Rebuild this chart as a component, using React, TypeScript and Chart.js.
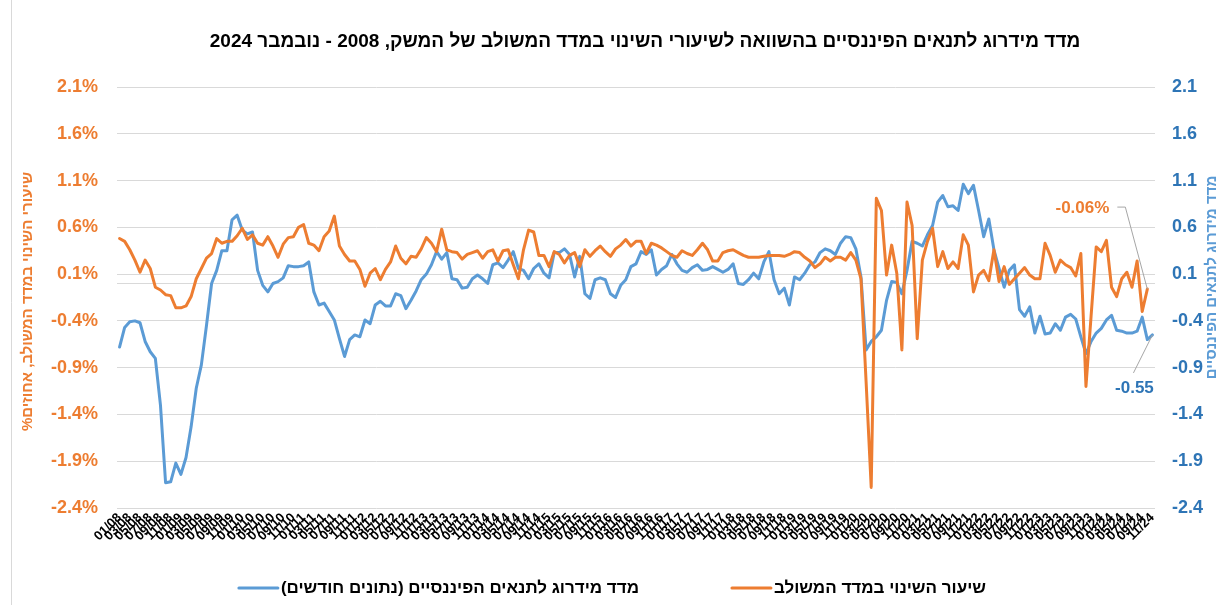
import React, { useEffect, useRef } from "react";
import { Chart, registerables } from "chart.js";

Chart.register(...registerables);

const FONT = "'Liberation Sans', Arial, sans-serif";
const ORANGE = "#ED7D31";
const BLUE = "#5B9BD5";
const BLUE_DARK = "#2E75B6";
const GRID = "#d9d9d9";

const TITLE = "מדד מידרוג לתנאים הפיננסיים בהשוואה לשיעורי השינוי במדד המשולב של המשק, 2008 - נובמבר 2024";
const LEFT_TITLE = "שיעורי השינוי במדד המשולב, אחוזים%";
const RIGHT_TITLE = "מדד מידרוג לתנאים הפיננסיים";
const ORANGE_LABEL = "שיעור השינוי במדד המשולב";
const BLUE_LABEL = "מדד מידרוג לתנאים הפיננסיים (נתונים חודשים)";

const YEARS = ["08", "09", "10", "11", "12", "13", "14", "15", "16", "17", "18", "19", "20", "21", "22", "23", "24"];
const MONTHS = ["01", "02", "03", "04", "05", "06", "07", "08", "09", "10", "11", "12"];
const LAST_MONTH_COUNT = 11; // 2024 ends in November

const monthLabels: string[] = [];
YEARS.forEach((y, yi) => {
  const n = yi === YEARS.length - 1 ? LAST_MONTH_COUNT : 12;
  for (let m = 0; m < n; m++) monthLabels.push(`${MONTHS[m]}/${y}`);
});

const TICK_VALUES = [-2.4, -1.9, -1.4, -0.9, -0.4, 0.1, 0.6, 1.1, 1.6, 2.1];

// Combined index monthly change (%), left axis
const orangeSeries: (number | null)[] = [
  // 2008
  0.48, 0.45, 0.36, 0.25, 0.12, 0.25, 0.16, -0.04, -0.07, -0.12, -0.13, -0.26,
  // 2009
  -0.26, -0.24, -0.14, 0.05, 0.16, 0.27, 0.32, 0.48, 0.43, 0.45, 0.45, 0.51,
  // 2010
  0.59, 0.47, 0.52, 0.43, 0.41, 0.50, 0.40, 0.28, 0.42, 0.49, 0.50, 0.60,
  // 2011
  0.63, 0.43, 0.41, 0.35, 0.50, 0.56, 0.72, 0.40, 0.31, 0.24, 0.24, 0.15,
  // 2012
  -0.03, 0.11, 0.16, 0.04, 0.15, 0.23, 0.40, 0.27, 0.21, 0.29, 0.28, 0.37,
  // 2013
  0.49, 0.43, 0.34, 0.58, 0.36, 0.34, 0.33, 0.26, 0.31, 0.33, 0.35, 0.27,
  // 2014
  0.34, 0.36, 0.24, 0.35, 0.36, 0.20, 0.05, 0.36, 0.57, 0.55, 0.30, 0.30,
  // 2015
  0.18, 0.34, 0.31, 0.22, 0.30, 0.33, 0.18, 0.36, 0.29, 0.35, 0.40, 0.34,
  // 2016
  0.29, 0.37, 0.41, 0.47, 0.40, 0.45, 0.45, 0.32, 0.43, 0.41, 0.38, 0.34,
  // 2017
  0.30, 0.28, 0.35, 0.32, 0.30, 0.36, 0.43, 0.36, 0.24, 0.24, 0.33, 0.35,
  // 2018
  0.36, 0.33, 0.30, 0.28, 0.28, 0.28, 0.29, 0.30, 0.30, 0.30, 0.29, 0.31,
  // 2019
  0.34, 0.33, 0.28, 0.24, 0.17, 0.21, 0.28, 0.24, 0.28, 0.28, 0.25, 0.33,
  // 2020
  0.25, 0.05, -1.05, -2.18, 0.91, 0.78, 0.09, 0.41, 0.11, -0.71, 0.87, 0.62,
  // 2021
  -0.59, 0.25, 0.45, 0.59, 0.18, 0.34, 0.16, 0.23, 0.16, 0.52, 0.41, -0.09,
  // 2022
  0.09, 0.14, 0.03, 0.36, 0.02, 0.18, -0.01, 0.05, 0.11, 0.17, 0.09, 0.05,
  // 2023
  0.05, 0.43, 0.30, 0.12, 0.25, 0.20, 0.17, 0.08, 0.32, -1.10, -0.35, 0.39,
  // 2024
  0.34, 0.46, -0.04, -0.14, 0.05, 0.12, -0.04, 0.24, -0.30, -0.06, null,
];

// Midroog financial conditions index, right axis
const blueSeries: number[] = [
  // 2008
  -0.68, -0.47, -0.41, -0.40, -0.42, -0.62, -0.73, -0.80, -1.30, -2.13, -2.12, -1.92,
  // 2009
  -2.04, -1.86, -1.53, -1.12, -0.87, -0.45, 0.00, 0.14, 0.35, 0.35, 0.68, 0.73,
  // 2010
  0.57, 0.53, 0.55, 0.14, -0.02, -0.09, 0.00, 0.02, 0.06, 0.19, 0.18, 0.18,
  // 2011
  0.19, 0.23, -0.09, -0.23, -0.21, -0.30, -0.39, -0.59, -0.78, -0.60, -0.55, -0.57,
  // 2012
  -0.39, -0.43, -0.23, -0.19, -0.24, -0.24, -0.11, -0.13, -0.27, -0.18, -0.08, 0.04,
  // 2013
  0.10, 0.20, 0.34, 0.26, 0.33, 0.05, 0.04, -0.05, -0.04, 0.05, 0.09, 0.05,
  // 2014
  0.00, 0.20, 0.22, 0.17, 0.25, 0.34, 0.16, 0.14, 0.05, 0.16, 0.21, 0.11,
  // 2015
  0.06, 0.33, 0.33, 0.37, 0.31, 0.07, 0.29, -0.11, -0.16, 0.04, 0.06, 0.04,
  // 2016
  -0.11, -0.15, -0.02, 0.04, 0.18, 0.21, 0.34, 0.31, 0.36, 0.09, 0.15, 0.19,
  // 2017
  0.31, 0.21, 0.14, 0.12, 0.17, 0.20, 0.14, 0.15, 0.18, 0.15, 0.12, 0.15,
  // 2018
  0.21, 0.00, -0.01, 0.04, 0.11, 0.05, 0.23, 0.34, 0.04, -0.11, -0.05, -0.23,
  // 2019
  0.07, 0.04, 0.11, 0.20, 0.23, 0.33, 0.37, 0.35, 0.31, 0.43, 0.50, 0.49,
  // 2020
  0.37, 0.07, -0.71, -0.62, -0.57, -0.50, -0.18, 0.02, 0.01, -0.11, 0.14, 0.45,
  // 2021
  0.43, 0.40, 0.52, 0.62, 0.87, 0.94, 0.82, 0.83, 0.78, 1.06, 0.96, 1.05,
  // 2022
  0.78, 0.50, 0.69, 0.36, 0.16, -0.04, 0.14, 0.20, -0.28, -0.35, -0.25, -0.53,
  // 2023
  -0.35, -0.54, -0.53, -0.43, -0.50, -0.36, -0.33, -0.38, -0.57, -0.75, -0.62, -0.53,
  // 2024
  -0.48, -0.39, -0.34, -0.50, -0.51, -0.53, -0.53, -0.51, -0.36, -0.60, -0.55,
];

function lastIndex(arr: (number | null)[]): number {
  for (let i = arr.length - 1; i >= 0; i--) if (arr[i] !== null) return i;
  return 0;
}

const customPlugin = {
  id: "customDecor",
  beforeDraw(chart: any) {
    const { ctx, width, height } = chart;
    ctx.save();
    ctx.fillStyle = "#ffffff";
    ctx.fillRect(0, 0, width, height);
    // chart frame (left edge)
    ctx.strokeStyle = GRID;
    ctx.lineWidth = 1;
    ctx.beginPath();
    ctx.moveTo(11.5, 0);
    ctx.lineTo(11.5, height);
    ctx.stroke();
    ctx.restore();
  },
  beforeDatasetsDraw(chart: any) {
    const { ctx, chartArea, scales } = chart;
    const y0 = Math.round(scales.y.getPixelForValue(0)) + 0.5;
    ctx.save();
    ctx.strokeStyle = GRID;
    ctx.lineWidth = 1;
    ctx.beginPath();
    ctx.moveTo(chartArea.left, y0);
    ctx.lineTo(chartArea.right, y0);
    ctx.stroke();
    ctx.restore();
  },
  afterDraw(chart: any) {
    const { ctx, chartArea } = chart;
    ctx.save();
    ctx.direction = "rtl";

    // Title
    ctx.fillStyle = "#000";
    ctx.font = `bold 19px ${FONT}`;
    ctx.textAlign = "center";
    ctx.textBaseline = "middle";
    ctx.fillText(TITLE, 645, 42);

    // Axis titles
    const midY = (chartArea.top + chartArea.bottom) / 2;
    ctx.font = `bold 15px ${FONT}`;
    ctx.save();
    ctx.translate(28, midY + 4);
    ctx.rotate(-Math.PI / 2);
    ctx.fillStyle = ORANGE;
    ctx.fillText(LEFT_TITLE, 0, 0);
    ctx.restore();
    ctx.save();
    ctx.translate(1212, midY - 20);
    ctx.rotate(-Math.PI / 2);
    ctx.fillStyle = BLUE;
    ctx.fillText(RIGHT_TITLE, 0, 0);
    ctx.restore();

    // Legend
    ctx.font = `bold 17px ${FONT}`;
    ctx.textAlign = "right";
    const items = [
      { text: ORANGE_LABEL, color: ORANGE, right: 986 },
      { text: BLUE_LABEL, color: BLUE, right: 639 },
    ];
    const ly = 588;
    items.forEach((it) => {
      const w = ctx.measureText(it.text).width;
      ctx.fillStyle = "#000";
      ctx.fillText(it.text, it.right, ly);
      ctx.strokeStyle = it.color;
      ctx.lineWidth = 3;
      ctx.lineCap = "round";
      ctx.beginPath();
      ctx.moveTo(it.right - w - 42, ly);
      ctx.lineTo(it.right - w - 3, ly);
      ctx.stroke();
    });

    // Data labels with leader lines
    const oi = lastIndex(orangeSeries);
    const op = chart.getDatasetMeta(0).data[oi];
    const bi = lastIndex(blueSeries);
    const bp = chart.getDatasetMeta(1).data[bi];
    ctx.strokeStyle = "#a6a6a6";
    ctx.lineWidth = 1;
    ctx.lineCap = "butt";
    ctx.beginPath();
    ctx.moveTo(op.x, op.y);
    ctx.lineTo(op.x - 22, op.y - 82);
    ctx.lineTo(op.x - 30, op.y - 82);
    ctx.stroke();
    ctx.beginPath();
    ctx.moveTo(bp.x, bp.y);
    ctx.lineTo(bp.x - 19, bp.y + 38);
    ctx.stroke();

    ctx.font = `bold 17px ${FONT}`;
    ctx.fillStyle = ORANGE;
    ctx.textAlign = "right";
    ctx.direction = "ltr";
    ctx.fillText(`${(orangeSeries[oi] as number).toFixed(2)}%`, op.x - 38, op.y - 81);
    ctx.fillStyle = BLUE_DARK;
    ctx.textAlign = "center";
    ctx.fillText(blueSeries[bi].toFixed(2), bp.x - 18, bp.y + 53);

    ctx.restore();
  },
};

export default function App() {
  const canvasRef = useRef<HTMLCanvasElement | null>(null);

  useEffect(() => {
    document.body.style.margin = "0";
    const canvas = canvasRef.current;
    if (!canvas) return;
    const setTicks = (axis: any) => {
      axis.ticks = TICK_VALUES.map((v) => ({ value: v }));
    };
    const chart = new Chart(canvas, {
      type: "line",
      data: {
        labels: monthLabels,
        datasets: [
          {
            label: ORANGE_LABEL,
            data: orangeSeries,
            yAxisID: "y",
            borderColor: ORANGE,
            backgroundColor: ORANGE,
            borderWidth: 3,
            pointRadius: 0,
            tension: 0,
            borderJoinStyle: "round",
            borderCapStyle: "round",
          },
          {
            label: BLUE_LABEL,
            data: blueSeries,
            yAxisID: "y1",
            borderColor: BLUE,
            backgroundColor: BLUE,
            borderWidth: 3,
            pointRadius: 0,
            tension: 0,
            borderJoinStyle: "round",
            borderCapStyle: "round",
          },
        ],
      },
      options: {
        responsive: false,
        animation: false,
        devicePixelRatio: 1,
        layout: { padding: { top: 87, left: 0, right: 0, bottom: 0 } },
        plugins: {
          legend: { display: false },
          title: { display: false },
          tooltip: { enabled: false },
        },
        scales: {
          x: {
            type: "category",
            offset: true,
            grid: { display: false, drawTicks: false },
            border: { display: false },
            ticks: {
              autoSkip: false,
              maxRotation: 45,
              minRotation: 45,
              padding: 2,
              color: "#000",
              font: { size: 13, weight: "bold", family: FONT },
              callback: (_v: any, i: number) => (i % 2 === 0 ? monthLabels[i] : ""),
            },
            afterFit: (s: any) => {
              s.height = 97;
            },
          },
          y: {
            position: "left",
            min: -2.4,
            max: 2.1,
            afterBuildTicks: setTicks,
            grid: { color: GRID, drawTicks: false, lineWidth: 1 },
            border: { display: false },
            ticks: {
              padding: 19,
              color: ORANGE,
              font: { size: 18, weight: "bold", family: FONT },
              callback: (v: any) => `${Number(v).toFixed(1)}%`,
            },
            afterFit: (s: any) => {
              s.width = 117;
            },
          },
          y1: {
            position: "right",
            min: -2.4,
            max: 2.1,
            afterBuildTicks: setTicks,
            grid: { display: false, drawTicks: false },
            border: { display: false },
            ticks: {
              padding: 17,
              color: BLUE_DARK,
              font: { size: 18, weight: "bold", family: FONT },
              callback: (v: any) => Number(v).toFixed(1),
            },
            afterFit: (s: any) => {
              s.width = 65;
            },
          },
        },
      } as any,
      plugins: [customPlugin],
    });
    return () => chart.destroy();
  }, []);

  return (
    <div style={{ position: "absolute", left: 0, top: 0, width: 1220, height: 605 }}>
      <canvas ref={canvasRef} width={1220} height={605} style={{ width: 1220, height: 605, display: "block" }} />
    </div>
  );
}
